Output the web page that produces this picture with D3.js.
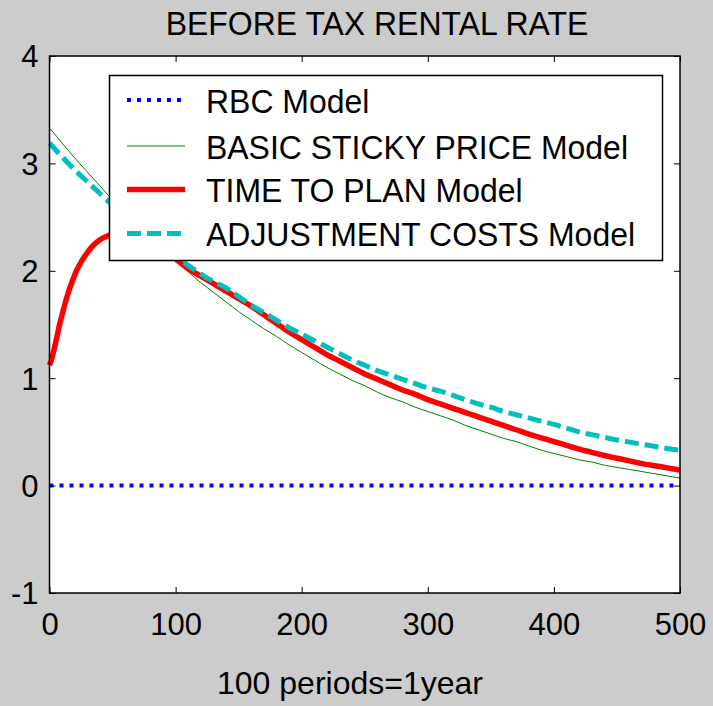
<!DOCTYPE html>
<html>
<head>
<meta charset="utf-8">
<script src="https://cdn.jsdelivr.net/npm/d3@7"></script>
<style>
  html, body { margin: 0; padding: 0; background: #cccccc; }
  svg { display: block; }
  text { font-family: "Liberation Sans", Arial, Helvetica, sans-serif; fill: #000; }
</style>
</head>
<body>
<svg id="chart" width="713" height="706"></svg>
<script>
// ---------------- data ----------------
const titleText = "BEFORE TAX RENTAL RATE";
const xLabelText = "100 periods=1year";
const xTicks = [0, 100, 200, 300, 400, 500];
const yTicks = [-1, 0, 1, 2, 3, 4];
const seriesNames = ["RBC Model", "BASIC STICKY PRICE Model", "TIME TO PLAN Model", "ADJUSTMENT COSTS Model"];

const periods = [0,10,20,30,40,50,60,70,80,90,100,110,120,130,140,150,160,170,180,190,200,
  210,220,230,240,250,260,270,280,290,300,310,320,330,340,350,360,370,380,390,400,
  410,420,430,440,450,460,470,480,490,500];

const rbcValues = periods.map(() => 0);

const stickyValues = [3.33,3.19,3.05,2.92,2.79,2.66,2.54,2.42,2.30,2.19,2.09,1.99,1.89,1.80,1.71,1.62,
  1.54,1.46,1.39,1.31,1.24,1.17,1.10,1.04,0.98,0.93,0.87,0.82,0.78,0.73,0.69,0.65,0.61,0.56,0.52,
  0.48,0.44,0.41,0.37,0.33,0.30,0.27,0.24,0.22,0.19,0.17,0.15,0.13,0.11,0.09,0.07];

const planPeriods = [0,2,4,6,8,10,12,15,18,21,25,30,35,40,45,50,60,70,80,90,100,110,120,130,140,150,
  160,170,180,190,200,210,220,230,240,250,260,270,280,290,300,310,320,330,340,350,360,370,380,390,
  400,410,420,430,440,450,460,470,480,490,500];
const planValues = [1.12,1.19,1.29,1.39,1.50,1.59,1.68,1.80,1.90,1.99,2.08,2.17,2.24,2.29,2.32,2.34,
  2.35,2.33,2.27,2.19,2.11,2.02,1.95,1.88,1.81,1.74,1.67,1.59,1.51,1.43,1.36,1.29,1.22,1.16,1.10,
  1.04,0.99,0.94,0.89,0.85,0.80,0.76,0.72,0.68,0.64,0.60,0.56,0.52,0.48,0.445,0.41,0.375,0.34,0.31,
  0.28,0.255,0.23,0.205,0.185,0.165,0.145];

const adjustValues = [3.19,3.06,2.94,2.83,2.72,2.61,2.51,2.41,2.32,2.23,2.13,2.05,1.97,1.90,1.84,1.76,
  1.68,1.61,1.54,1.47,1.41,1.35,1.29,1.23,1.17,1.12,1.07,1.03,0.99,0.95,0.91,0.88,0.84,0.80,0.76,
  0.73,0.69,0.66,0.63,0.60,0.57,0.535,0.50,0.475,0.45,0.425,0.405,0.385,0.365,0.345,0.33];

// ---------------- layout ----------------
const svg = d3.select("#chart");
const L = 49.5, R = 680, T = 56, B = 593;
const x = d3.scaleLinear().domain([0, 500]).range([L, R]);
const y = d3.scaleLinear().domain([-1, 4]).range([B, T]);

svg.append("rect").attr("width", 713).attr("height", 706).attr("fill", "#cccccc");
svg.append("rect").attr("x", L).attr("y", T).attr("width", R - L).attr("height", B - T).attr("fill", "#ffffff");

const styles = [
  { color: "#0000ff", width: 4, dash: "4,6" },
  { color: "#008000", width: 1, dash: null },
  { color: "#ff0000", width: 5.5, dash: null },
  { color: "#00bfbf", width: 5, dash: "14,6" }
];

const series = [
  { xs: periods, ys: rbcValues },
  { xs: periods, ys: stickyValues },
  { xs: planPeriods, ys: planValues },
  { xs: periods, ys: adjustValues }
];

const line = d3.line().x(d => x(d[0])).y(d => y(d[1])).curve(d3.curveMonotoneX);

const plotG = svg.append("g");
series.forEach((s, i) => {
  const pts = s.xs.map((v, k) => [v, s.ys[k]]);
  plotG.append("path")
    .attr("d", line(pts))
    .attr("fill", "none")
    .attr("stroke", styles[i].color)
    .attr("stroke-width", styles[i].width)
    .attr("stroke-dasharray", styles[i].dash)
    .attr("stroke-linejoin", "round");
});

// ---------------- axes ----------------
const fmt = d => String(d);
function styleAxis(g) {
  g.select(".domain").remove();
  g.selectAll(".tick line").attr("stroke", "#000").attr("stroke-width", 1);
}
const xb = svg.append("g").attr("transform", `translate(0,${B})`)
  .call(d3.axisBottom(x).tickValues(xTicks).tickFormat(fmt).tickSize(-6).tickSizeOuter(0).tickPadding(0));
styleAxis(xb);
xb.selectAll(".tick text").attr("y", 42).attr("dy", null)
  .style("font-size", "31px").style("font-family", '"Liberation Sans", Arial, sans-serif').attr("fill", "#000");

const xt = svg.append("g").attr("transform", `translate(0,${T})`)
  .call(d3.axisTop(x).tickValues(xTicks).tickSize(-6).tickSizeOuter(0).tickFormat(""));
styleAxis(xt);

const yl = svg.append("g").attr("transform", `translate(${L},0)`)
  .call(d3.axisLeft(y).tickValues(yTicks).tickFormat(fmt).tickSize(-6).tickSizeOuter(0).tickPadding(11));
styleAxis(yl);
yl.selectAll(".tick text").attr("dy", "0.35em")
  .style("font-size", "31px").style("font-family", '"Liberation Sans", Arial, sans-serif').attr("fill", "#000");

const yr = svg.append("g").attr("transform", `translate(${R},0)`)
  .call(d3.axisRight(y).tickValues(yTicks).tickSize(-6).tickSizeOuter(0).tickFormat(""));
styleAxis(yr);

svg.append("rect").attr("x", L).attr("y", T).attr("width", R - L).attr("height", B - T)
  .attr("fill", "none").attr("stroke", "#000").attr("stroke-width", 1.5);

// ---------------- title / label ----------------
svg.append("g").attr("transform", "translate(377,35) scale(0.94,1)")
  .append("text").attr("text-anchor", "middle").style("font-size", "34px").text(titleText);

svg.append("text").attr("x", 350).attr("y", 694).attr("text-anchor", "middle")
  .style("font-size", "32px").text(xLabelText);

// ---------------- legend ----------------
const lg = svg.append("g");
lg.append("rect").attr("x", 109.5).attr("y", 75.5).attr("width", 553).attr("height", 185)
  .attr("fill", "#fff").attr("stroke", "#000").attr("stroke-width", 1.5);
const rowY = [100, 146, 189.5, 233.5];
seriesNames.forEach((name, i) => {
  lg.append("line").attr("x1", 127).attr("x2", 185).attr("y1", rowY[i]).attr("y2", rowY[i])
    .attr("stroke", styles[i].color).attr("stroke-width", styles[i].width)
    .attr("stroke-dasharray", styles[i].dash);
  lg.append("g").attr("transform", `translate(206,${rowY[i] + 12.5}) scale(0.94,1)`)
    .append("text").style("font-size", "34px").text(name);
});
</script>
</body>
</html>
